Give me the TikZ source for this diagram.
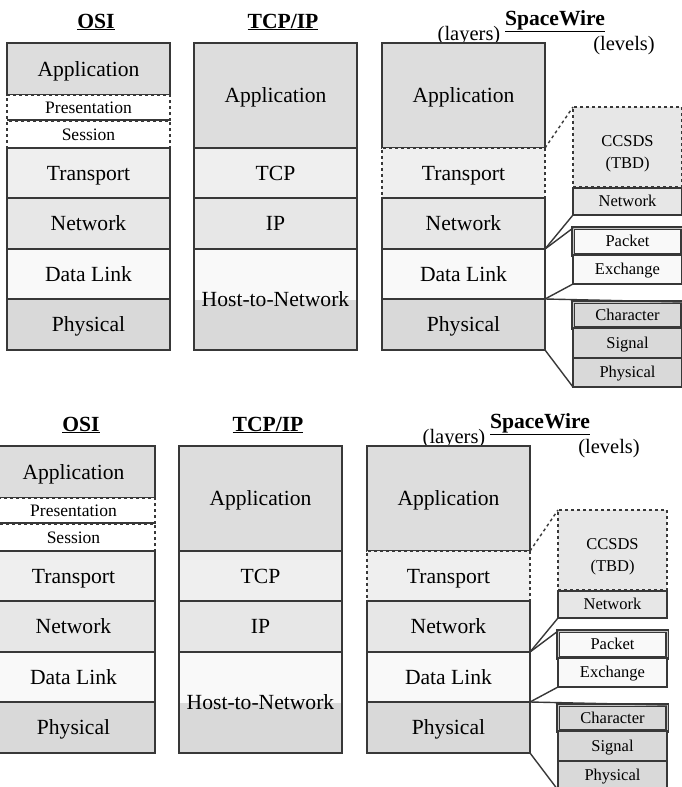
\documentclass[tikz,border=0pt]{standalone}
\usepackage{fontspec}
\setmainfont{Liberation Serif}
\definecolor{cA}{HTML}{DDDDDD}
\definecolor{cT}{HTML}{EFEFEF}
\definecolor{cN}{HTML}{E7E7E7}
\definecolor{cD}{HTML}{F9F9F9}
\definecolor{cP}{HTML}{D9D9D9}
\definecolor{ln}{HTML}{383838}
\tikzset{
 lay/.style={draw=ln, line width=1.3pt, anchor=north west, inner sep=0pt, outer sep=0pt,
   align=center, font=\fontsize{21.6}{24}\selectfont, minimum width=163pt,
   text height=14.3pt, text depth=0pt},
 smallbox/.style={lay, fill=white, dashed, font=\fontsize{17.5}{20}\selectfont,
   text height=11.6pt},
 lvl/.style={lay, minimum width=109pt, font=\fontsize{16.5}{22}\selectfont,
   text height=10.9pt},
 dbl/.style={double=gray!45, double distance=1pt, line width=1.4pt},
 conn/.style={draw=ln, line width=1.4pt},
 ttl/.style={font=\bfseries\fontsize{21.6}{24}\selectfont, inner sep=0pt},
 note/.style={font=\fontsize{20.5}{23}\selectfont, inner sep=0pt},
 lvltext/.style={font=\fontsize{16.5}{22}\selectfont, inner sep=0pt, align=center},
}
\newcommand\stackpic[3]{%
\begin{scope}[shift={(#2,#3)}]
 % titles
 \node[ttl] (#1t1) at (96,22) {\underline{OSI}};
 \node[ttl] (#1t2) at (283,22) {\underline{TCP/IP}};
 \node[ttl] (#1t3) at (555,21) {\underline{SpaceWire}};
 \node[note] (#1lay) at (469,36) {(layers)};
 \node[note] (#1lev) at (624,46) {(levels)};
 % OSI
 \node[lay, fill=cA, minimum height=52pt] (#1oa) at (7,43) {Application};
 \node[smallbox, minimum height=25pt] (#1op) at (7,95) {Presentation};
 \node[smallbox, minimum height=27pt] (#1os) at (7,121) {Session};
 \draw[conn] (#1op.south west) -- (#1op.south east);
 \node[lay, fill=cT, minimum height=50pt] (#1ot) at (7,148) {Transport};
 \node[lay, fill=cN, minimum height=51pt] (#1on) at (7,198) {Network};
 \node[lay, fill=cD, minimum height=50pt] (#1od) at (7,249) {Data Link};
 \node[lay, fill=cP, minimum height=51pt] (#1oph) at (7,299) {Physical};
 % TCP/IP
 \node[lay, fill=cA, minimum height=105pt] (#1ta) at (194,43) {Application};
 \node[lay, fill=cT, minimum height=50pt] (#1tt) at (194,148) {TCP};
 \node[lay, fill=cN, minimum height=51pt] (#1ti) at (194,198) {IP};
 \fill[cD] (194,249) rectangle (357,300);
 \fill[cP] (194,300) rectangle (357,350);
 \node[lay, minimum height=101pt] (#1th) at (194,249) {Host-to-Network};
 % SpaceWire layers
 \node[lay, fill=cA, minimum height=105pt] (#1sa) at (382,43) {Application};
 \node[lay, fill=cT, dashed, minimum height=50pt] (#1st) at (382,148) {Transport};
 \node[lay, fill=cN, minimum height=51pt] (#1sn) at (382,198) {Network};
 \node[lay, fill=cD, minimum height=50pt] (#1sd) at (382,249) {Data Link};
 \node[lay, fill=cP, minimum height=51pt] (#1sp) at (382,299) {Physical};
 % SpaceWire levels
 \node[lvl, fill=cN, dashed, minimum height=80pt] (#1lc) at (573,107) {};
 \node[lvltext] (#1lct) at (627.5,154) {CCSDS\\(TBD)};
 \node[lvl, fill=cN, minimum height=27pt] (#1ln) at (573,188) {Network};
 \node[lvl, fill=cD, dbl, minimum height=27pt] (#1lpk) at (573,228) {Packet};
 \node[lvl, fill=cD, minimum height=29pt] (#1lx) at (573,255) {Exchange};
 \node[lvl, fill=cP, dbl, minimum height=26pt] (#1lch) at (573,302) {Character};
 \node[lvl, fill=cP, minimum height=30pt] (#1ls) at (573,328) {Signal};
 \node[lvl, fill=cP, minimum height=29pt] (#1lph) at (573,358) {Physical};
 % connectors
 \draw[conn, dashed] (#1st.north east) -- (#1lc.north west);
 \draw[conn] (#1sn.south east) -- (#1ln.south west);
 \draw[conn] (#1sn.south east) -- (#1lpk.north west);
 \draw[conn] (#1sd.south east) -- (#1lx.south west);
 \draw[conn] (#1sd.south east) -- (#1lch.north east);
 \draw[conn] (#1sp.south east) -- (#1lph.south west);
\end{scope}}
\begin{document}
\begin{tikzpicture}[x=1pt,y=-1pt]
 \useasboundingbox (0,0) rectangle (682,787);
 \clip (0,0) rectangle (682,787);
 \fill[white] (0,0) rectangle (682,787);
 \stackpic{a}{0}{0}
 \stackpic{b}{-15}{403}
\end{tikzpicture}
\end{document}
